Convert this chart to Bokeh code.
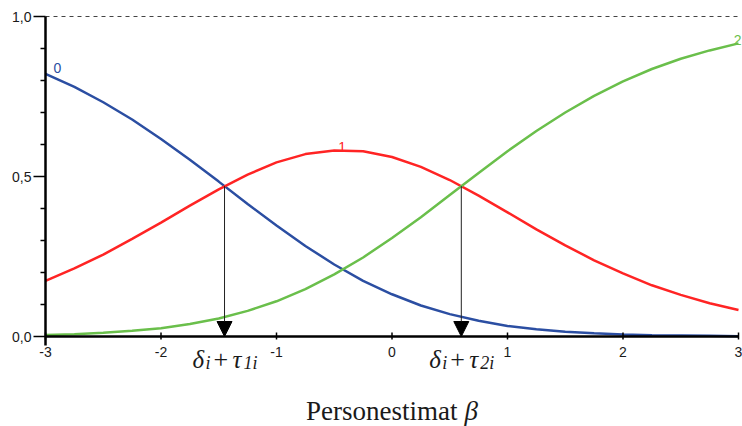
from bokeh.plotting import figure
from bokeh.models import Arrow, NormalHead, ColumnDataSource, Range1d
from bokeh.core.properties import value
from bokeh.embed import file_html
from bokeh.resources import INLINE

# ---- data ----
beta = [-3.0, -2.75, -2.5, -2.25, -2.0, -1.75, -1.5, -1.25, -1.0, -0.75, -0.5, -0.25,
        0.0, 0.25, 0.5, 0.75, 1.0, 1.25, 1.5, 1.75, 2.0, 2.25, 2.5, 2.75, 3.0]
p_cat0 = [0.821, 0.780, 0.732, 0.678, 0.617, 0.552, 0.484, 0.414, 0.347, 0.283, 0.225, 0.174,
          0.132, 0.097, 0.070, 0.049, 0.033, 0.023, 0.015, 0.010, 0.006, 0.004, 0.003, 0.002, 0.001]
p_cat1 = [0.174, 0.213, 0.256, 0.305, 0.356, 0.409, 0.460, 0.506, 0.544, 0.570, 0.581, 0.579,
          0.561, 0.530, 0.489, 0.440, 0.388, 0.335, 0.285, 0.238, 0.197, 0.160, 0.130, 0.104, 0.083]
p_cat2 = [0.005, 0.007, 0.012, 0.018, 0.026, 0.039, 0.056, 0.080, 0.110, 0.148, 0.194, 0.247,
          0.308, 0.373, 0.442, 0.511, 0.579, 0.642, 0.700, 0.752, 0.797, 0.836, 0.868, 0.894, 0.916]
category_names = ["0", "1", "2"]
threshold_x = [-1.45, 0.6]
threshold_y = [0.47, 0.47]
threshold_subs = ["1i", "2i"]
x_ticks = [-3, -2, -1, 0, 1, 2, 3]
x_tick_labels = ["-3", "-2", "-1", "0", "1", "2", "3"]
y_ticks = [0.0, 0.5, 1.0]
y_tick_labels = ["0,0", "0,5", "1,0"]
y_minor_ticks = [0.1, 0.2, 0.3, 0.4, 0.6, 0.7, 0.8, 0.9]
x_title = "Personestimat"
x_title_symbol = "β"

BLUE = "#2b4ea2"
RED = "#ff2424"
GREEN = "#6abf4b"
SANS = value("Liberation Sans")
SERIF = value("Liberation Serif")
TXT = "#1a1a1a"

# pixel geometry of the plotting area (canvas = whole frame)
W, H = 742, 426
PX_LEFT, PX_RIGHT = 45, 738        # x = -3 .. 3
PX_TOP, PX_ZERO = 16, 336          # y = 1 .. 0
sx = (PX_RIGHT - PX_LEFT) / (x_ticks[-1] - x_ticks[0])
sy = (PX_ZERO - PX_TOP) / (y_ticks[-1] - y_ticks[0])
x0, x1 = x_ticks[0], x_ticks[-1]
y0, y1 = y_ticks[0], y_ticks[-1]

p = figure(width=W, height=H, output_backend="svg", toolbar_location=None,
           x_range=Range1d(x0 - PX_LEFT / sx, x1 + (W - PX_RIGHT) / sx),
           y_range=Range1d(y0 - (H - PX_ZERO) / sy, y1 + PX_TOP / sy),
           x_axis_location=None, y_axis_location=None,
           min_border=0)
p.outline_line_color = None
p.xgrid.visible = False
p.ygrid.visible = False
p.background_fill_color = "white"
p.border_fill_color = "white"

src = ColumnDataSource(dict(beta=beta, p0=p_cat0, p1=p_cat1, p2=p_cat2))
for col, c in (("p0", BLUE), ("p1", RED), ("p2", GREEN)):
    p.line("beta", col, source=src, line_color=c, line_width=2.5)

# dashed line at 1,0
p.segment(x0=[x0], y0=[y1], x1=[x1 + 2 / sx], y1=[y1], line_color="#444444",
          line_dash="4 4", line_width=1.2)

# ---- x axis ----
p.segment(x0=[x0], y0=[y0], x1=[x1], y1=[y0], line_color="black", line_width=2.5)
p.segment(x0=x_ticks, y0=y0 - 3 / sy, x1=x_ticks, y1=y0 + 4 / sy,
          line_color="black", line_width=1.5)
p.text(x=x_ticks, y=y0, text=x_tick_labels, y_offset=10, text_align="center",
       text_baseline="top", text_font=SANS, text_font_size="14px", text_color=TXT)

# ---- y axis ----
p.segment(x0=[x0], y0=[y0 - 9 / sy], x1=[x0], y1=[y1], line_color="black", line_width=2.5)
p.segment(x0=x0 - 12 / sx, y0=y_ticks, x1=x0, y1=y_ticks, line_color="black", line_width=1.5)
p.segment(x0=x0 - 5 / sx, y0=y_minor_ticks, x1=x0, y1=y_minor_ticks,
          line_color="black", line_width=1.5)
p.text(x=x0, y=y_ticks, text=y_tick_labels, x_offset=-14, text_align="right",
       text_baseline="middle", text_font=SANS, text_font_size="14px", text_color=TXT)

# ---- curve labels ----
peak = max(range(len(p_cat1)), key=lambda i: p_cat1[i])
p.text(x=[beta[0]], y=[p_cat0[0]], text=[category_names[0]], x_offset=8, y_offset=-1,
       text_color=BLUE, text_font=SANS, text_font_size="14px",
       text_align="left", text_baseline="bottom")
p.text(x=[beta[peak]], y=[p_cat1[peak]], text=[category_names[1]], x_offset=8, y_offset=1,
       text_color=RED, text_font=SANS, text_font_size="14px",
       text_align="center", text_baseline="bottom")
p.text(x=[beta[-1]], y=[p_cat2[-1]], text=[category_names[2]], x_offset=3, y_offset=2,
       text_color=GREEN, text_font=SANS, text_font_size="14px",
       text_align="right", text_baseline="bottom")

# ---- threshold arrows ----
for tx, ty in zip(threshold_x, threshold_y):
    p.add_layout(Arrow(x_start=tx, y_start=ty, x_end=tx, y_end=y0,
                       line_color="#222222", line_width=1,
                       end=NormalHead(size=15, fill_color="black", line_color="black")))

# ---- threshold labels: delta_i + tau_{k i} ----
MAIN_Y = y0 - 23 / sy
SUB_Y = y0 - 26 / sy
n = len(threshold_x)
def piece(txt, dx, size, style, yy):
    p.text(x=threshold_x, y=yy, text=txt, x_offset=dx, text_font=SERIF,
           text_font_size=size, text_font_style=style, text_color=TXT,
           text_align="left", text_baseline="alphabetic")

piece(["δ"] * n, -32, "25px", "italic", MAIN_Y)
piece(["i"] * n, -19, "18px", "italic", SUB_Y)
piece(["+"] * n, -11, "26px", "normal", MAIN_Y)
piece(["τ"] * n, 8, "25px", "italic", MAIN_Y)
piece(threshold_subs, 19, "18px", "italic", SUB_Y)

# ---- x-axis title ----
TITLE_X = x0 + (457 - PX_LEFT) / sx
TITLE_Y = y0 - (410 - PX_ZERO) / sy
p.text(x=[TITLE_X], y=[TITLE_Y], text=[x_title], text_font=SERIF, text_font_size="27px",
       text_color=TXT, text_align="right", text_baseline="alphabetic")
p.text(x=[TITLE_X], y=[TITLE_Y], text=[x_title_symbol], x_offset=7, text_font=SERIF,
       text_font_size="27px", text_font_style="italic", text_color=TXT,
       text_align="left", text_baseline="alphabetic")

open("out.html", "w").write(file_html(p, INLINE))
